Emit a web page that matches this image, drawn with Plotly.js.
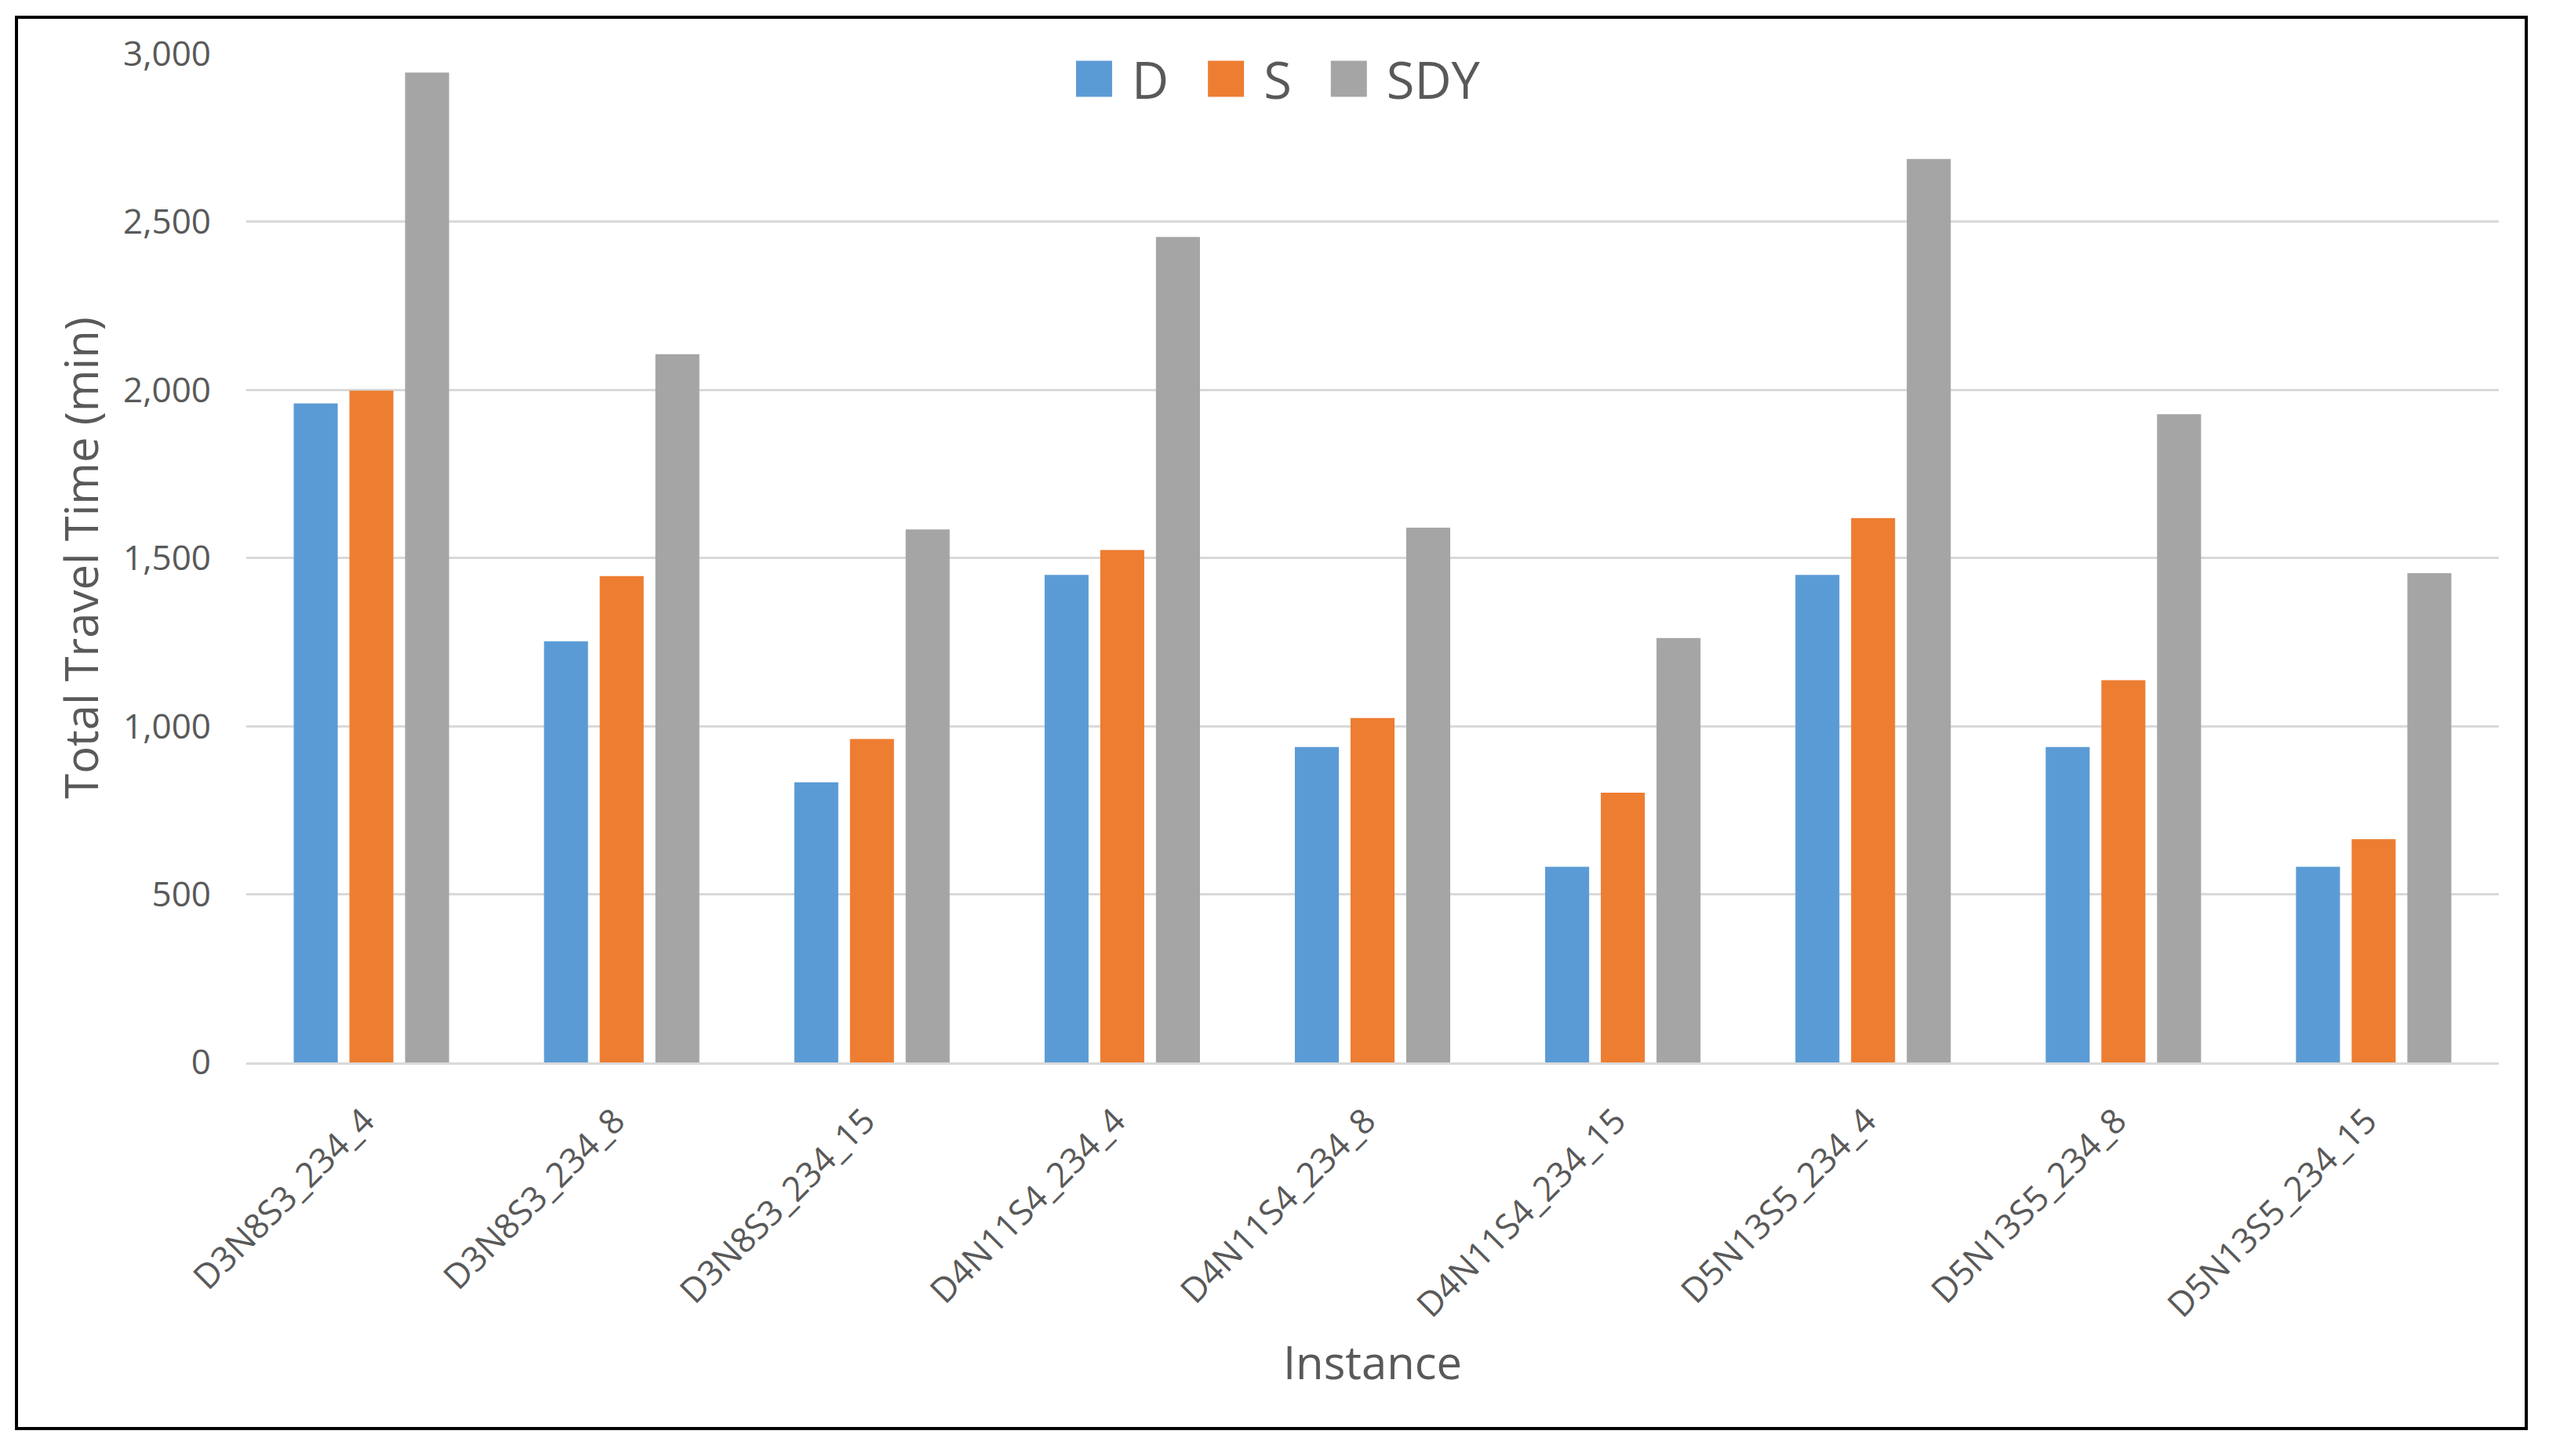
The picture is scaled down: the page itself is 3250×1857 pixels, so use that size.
<!DOCTYPE html>
<html>
<head>
<meta charset="utf-8">
<script src="https://cdn.plot.ly/plotly-3.0.1.min.js"></script>
<style>
  html, body { margin: 0; padding: 0; background: #ffffff; }
  #chart { width: 3250px; height: 1857px; }
</style>
</head>
<body>
<div id="chart"></div>
<script>
// ---- Data ----
const categories = [
  "D3N8S3_234_4", "D3N8S3_234_8", "D3N8S3_234_15",
  "D4N11S4_234_4", "D4N11S4_234_8", "D4N11S4_234_15",
  "D5N13S5_234_4", "D5N13S5_234_8", "D5N13S5_234_15"
];
const seriesNames = ["D", "S", "SDY"];
const valuesD   = [1960, 1252, 833, 1450, 938, 582, 1450, 938, 582];
const valuesS   = [1998, 1446, 962, 1524, 1024, 802, 1619, 1137, 664];
const valuesSDY = [2944, 2106, 1585, 2455, 1590, 1262, 2687, 1928, 1455];
const yTickVals = [0, 500, 1000, 1500, 2000, 2500, 3000];

// ---- Styling ----
const colors = ["#5B9BD5", "#ED7D31", "#A5A5A5"];
const textColor = "#595959";
const fontFamily = "'Open Sans', 'Noto Sans', sans-serif";

const seriesValues = [valuesD, valuesS, valuesSDY];
const traces = seriesNames.map((name, i) => ({
  type: "bar",
  name: name,
  x: categories,
  y: seriesValues[i],
  marker: { color: colors[i], line: { width: 0 } },
  hoverinfo: "x+y+name"
}));

const layout = {
  width: 3250,
  height: 1857,
  paper_bgcolor: "#ffffff",
  plot_bgcolor: "#ffffff",
  margin: { l: 314, r: 64, t: 68, b: 502, pad: 0 },
  barmode: "group",
  bargap: 0.3325,
  bargroupgap: 0.21,
  font: { family: fontFamily, color: textColor, size: 44 },
  showlegend: true,
  legend: {
    orientation: "h",
    x: 0.3527,
    xanchor: "left",
    y: 0.9745,
    yanchor: "middle",
    bgcolor: "rgba(0,0,0,0)",
    borderwidth: 0,
    itemwidth: 106,
    font: { family: fontFamily, color: textColor, size: 65 },
    traceorder: "normal"
  },
  xaxis: {
    type: "category",
    tickangle: -45,
    tickfont: { family: fontFamily, color: textColor, size: 44 },
    ticks: "",
    ticklabelstandoff: 28,
    ticklabelshift: -9,
    showgrid: false,
    showline: true,
    linecolor: "#D9D9D9",
    linewidth: 3,
    zeroline: false,
    automargin: false,
    title: {
      text: "Instance",
      font: { family: fontFamily, color: textColor, size: 58 },
      standoff: 28
    }
  },
  yaxis: {
    range: [0, 3001],
    tickvals: yTickVals,
    tickformat: ",d",
    tickfont: { family: fontFamily, color: textColor, size: 44 },
    ticks: "",
    ticklabelstandoff: 44,
    showgrid: true,
    gridcolor: "#D9D9D9",
    gridwidth: 3,
    showline: false,
    zeroline: false,
    automargin: false,
    title: {
      text: "Total Travel Time (min)",
      font: { family: fontFamily, color: textColor, size: 58 },
      standoff: 12
    }
  },
  shapes: [
    {
      type: "rect",
      xref: "paper", yref: "paper",
      x0: -0.10202, x1: 1.01219,
      y0: -0.36286, y1: 1.03574,
      line: { color: "#000000", width: 4 },
      fillcolor: "rgba(0,0,0,0)",
      layer: "above"
    }
  ]
};

function enlargeLegendSwatches(gd) {
  const swatchSize = 46;    // px, square
  const swatchTextGap = 25; // px between swatch and text
  const k = swatchSize / 12;
  gd.querySelectorAll(".legend .traces").forEach(tr => {
    const txt = tr.querySelector("text.legendtext");
    let tx = 40;
    if (txt && txt.getAttribute("x")) tx = parseFloat(txt.getAttribute("x"));
    const cx = tx - swatchTextGap - swatchSize / 2;
    tr.querySelectorAll(".legendpoints path").forEach(p => {
      p.setAttribute("transform", "translate(" + cx + ",0) scale(" + k + ")");
      p.style.strokeWidth = "0px";
    });
  });
}

const gd = document.getElementById("chart");
Plotly.newPlot(gd, traces, layout, { staticPlot: true, displayModeBar: false })
  .then(() => enlargeLegendSwatches(gd));
</script>
</body>
</html>
